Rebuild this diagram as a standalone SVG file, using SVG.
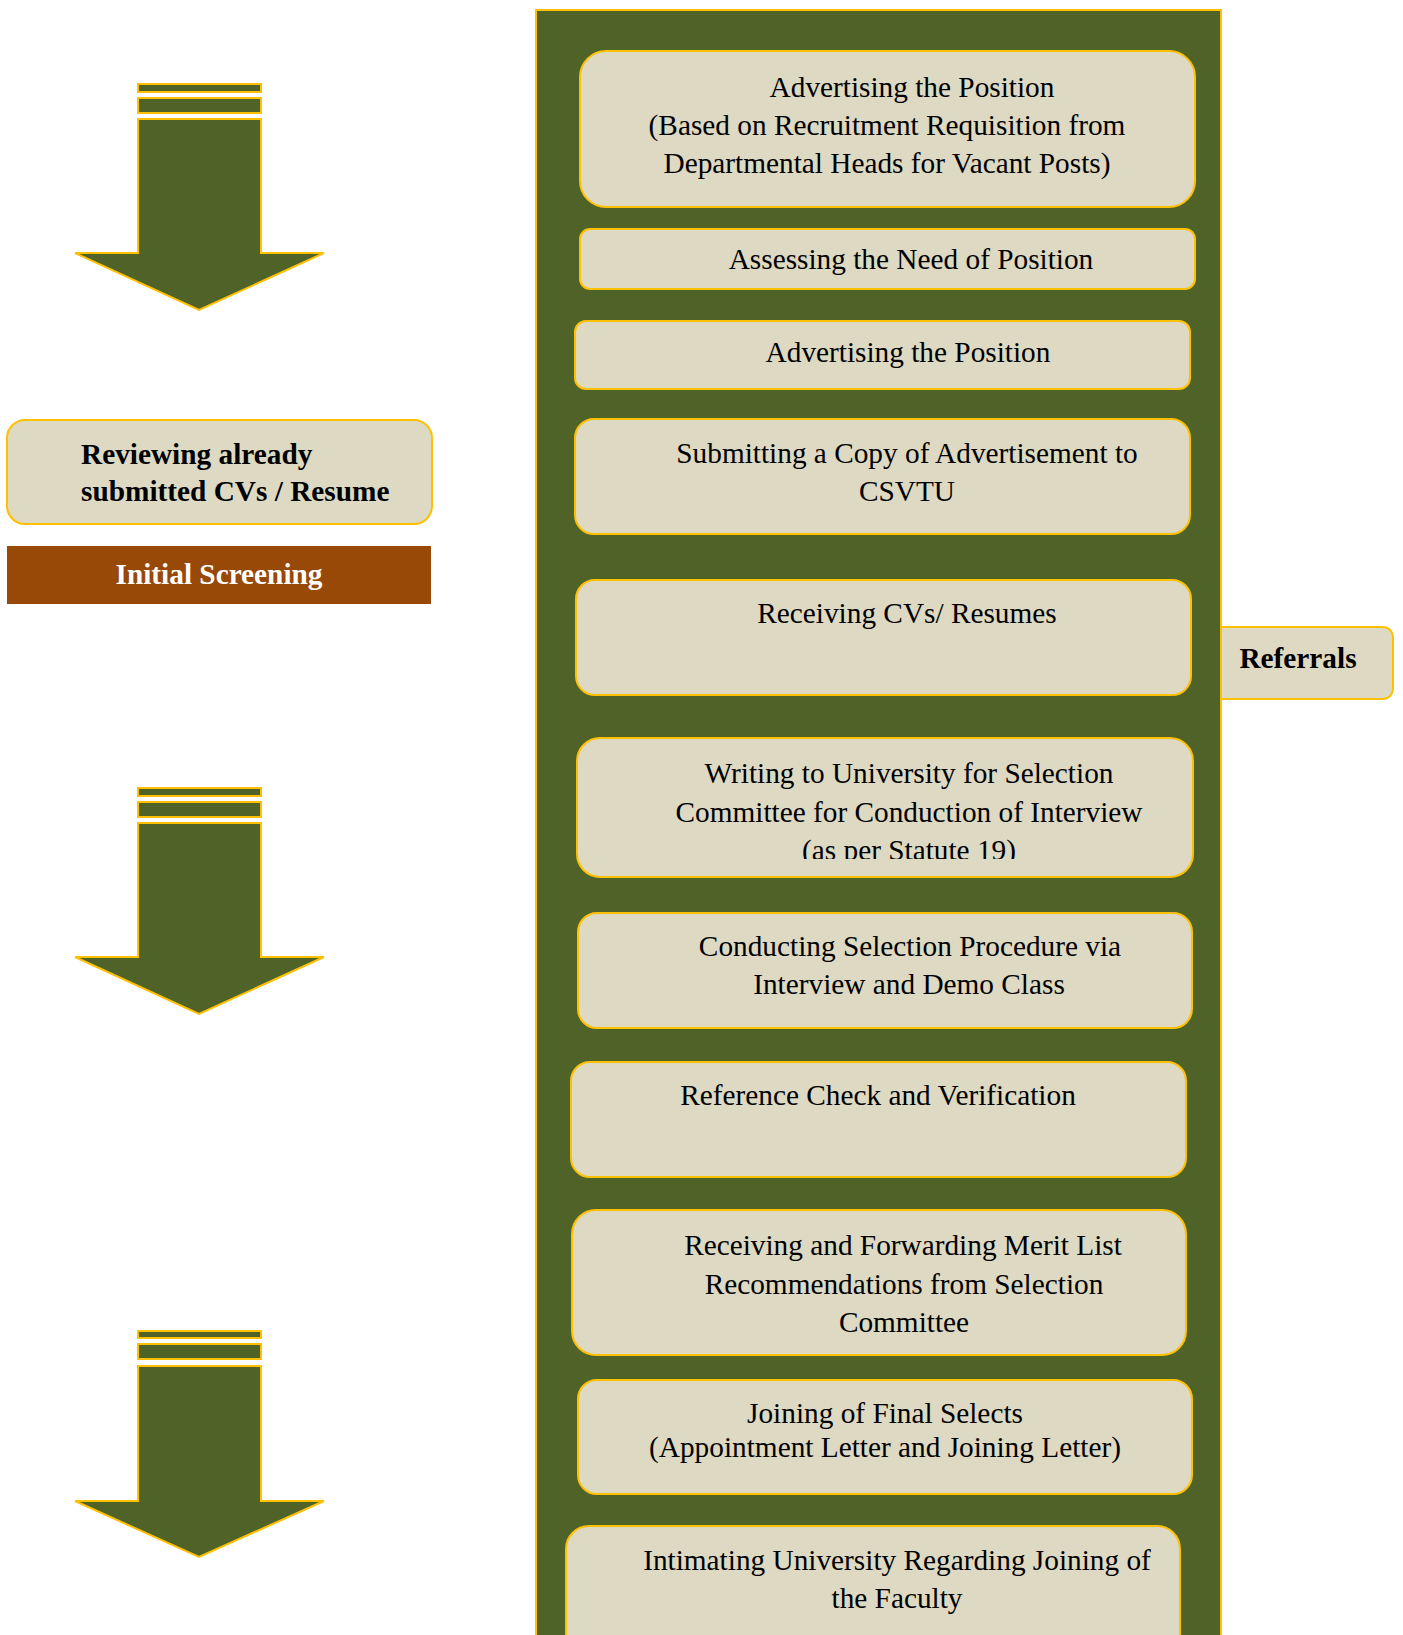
<svg xmlns="http://www.w3.org/2000/svg" width="1403" height="1635" viewBox="0 0 1403 1635">
<style>
.box{fill:#DDD9C3;stroke:#FFC000;stroke-width:2}
.arr{fill:#4F6228;stroke:#FFC000;stroke-width:2}
.t{font-family:"Liberation Serif","Times New Roman",serif;font-size:29.3px;fill:#000;text-anchor:middle}
.b{font-weight:bold}
</style>
<defs>
<clipPath id="clip6"><rect x="577" y="738" width="616" height="121"/></clipPath>
</defs>
<rect width="1403" height="1635" fill="#fff"/>
<g id="panel"><rect x="536" y="10" width="685" height="1640" fill="#4F6228" stroke="#FFC000" stroke-width="2"/></g>
<g id="arrows">
<g id="arrow1">
<rect class="arr" x="138" y="84" width="123" height="8"/>
<rect class="arr" x="138" y="98" width="123" height="15"/>
<path class="arr" d="M138,119 H261 V253 H324 L199,310 L75,253 H138 Z"/>
</g>
<g id="arrow2">
<rect class="arr" x="138" y="788" width="123" height="8"/>
<rect class="arr" x="138" y="802" width="123" height="15"/>
<path class="arr" d="M138,823 H261 V957 H324 L199,1014 L75,957 H138 Z"/>
</g>
<g id="arrow3">
<rect class="arr" x="138" y="1331" width="123" height="7"/>
<rect class="arr" x="138" y="1344" width="123" height="15"/>
<path class="arr" d="M138,1366 H261 V1501 H324 L199,1557 L75,1501 H138 Z"/>
</g>
</g>
<g id="n1"><rect class="box" x="580" y="51" width="615" height="156" rx="26"/>
<text class="t" x="912" y="97">Advertising the Position</text>
<text class="t" x="887" y="135">(Based on Recruitment Requisition from</text>
<text class="t" x="887" y="173">Departmental Heads for Vacant Posts)</text></g>
<g id="n2"><rect class="box" x="580" y="229" width="615" height="60" rx="10"/>
<text class="t" x="911" y="269">Assessing the Need of Position</text></g>
<g id="n3"><rect class="box" x="575" y="321" width="615" height="68" rx="11"/>
<text class="t" x="908" y="362">Advertising the Position</text></g>
<g id="n4"><rect class="box" x="575" y="419" width="615" height="115" rx="19"/>
<text class="t" x="907" y="463">Submitting a Copy of Advertisement to</text>
<text class="t" x="907" y="501">CSVTU</text></g>
<g id="n5"><rect class="box" x="576" y="580" width="615" height="115" rx="19"/>
<text class="t" x="907" y="623">Receiving CVs/ Resumes</text></g>
<g id="referrals"><path class="box" d="M1221,627 H1381 Q1393,627 1393,639 V687 Q1393,699 1381,699 H1221 Z"/>
<text class="t b" x="1298" y="668">Referrals</text></g>
<g id="n6"><rect class="box" x="577" y="738" width="616" height="139" rx="23"/>
<g clip-path="url(#clip6)">
<text class="t" x="909" y="783">Writing to University for Selection</text>
<text class="t" x="909" y="822">Committee for Conduction of Interview</text>
<text class="t" x="909" y="860">(as per Statute 19)</text></g></g>
<g id="n7"><rect class="box" x="578" y="913" width="614" height="115" rx="19"/>
<text class="t" x="910" y="956">Conducting Selection Procedure via</text>
<text class="t" x="909" y="994">Interview and Demo Class</text></g>
<g id="n8"><rect class="box" x="571" y="1062" width="615" height="115" rx="19"/>
<text class="t" x="878" y="1105">Reference Check and Verification</text></g>
<g id="n9"><rect class="box" x="572" y="1210" width="614" height="145" rx="24"/>
<text class="t" x="903" y="1255">Receiving and Forwarding Merit List</text>
<text class="t" x="904" y="1294">Recommendations from Selection</text>
<text class="t" x="904" y="1332">Committee</text></g>
<g id="n10"><rect class="box" x="578" y="1380" width="614" height="114" rx="19"/>
<text class="t" x="885" y="1423">Joining of Final Selects</text>
<text class="t" x="885" y="1457">(Appointment Letter and Joining Letter)</text></g>
<g id="n11"><rect class="box" x="566" y="1526" width="614" height="140" rx="23"/>
<text class="t" x="897" y="1570">Intimating University Regarding Joining of</text>
<text class="t" x="897" y="1608">the Faculty</text></g>
<g id="reviewing"><rect class="box" x="7" y="420" width="425" height="104" rx="18"/>
<text class="t b" x="81" y="464" style="text-anchor:start">Reviewing already</text>
<text class="t b" x="81" y="501" style="text-anchor:start">submitted CVs / Resume</text></g>
<g id="screening"><rect x="7" y="546" width="424" height="58" fill="#984807"/>
<text class="t b" x="219" y="584" style="fill:#fff">Initial Screening</text></g>
</svg>
